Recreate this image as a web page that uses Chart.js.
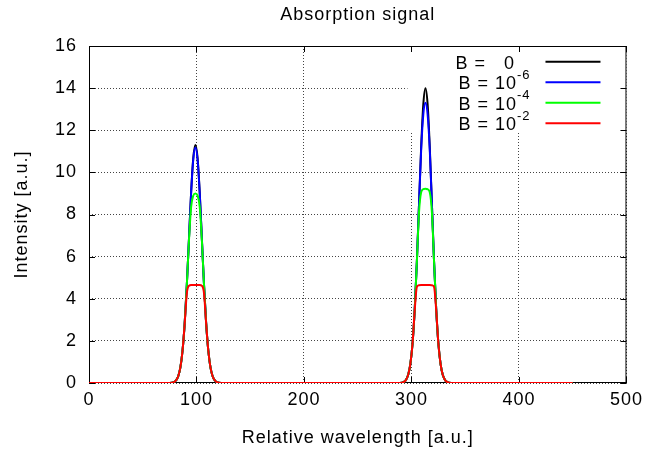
<!DOCTYPE html>
<html>
<head>
<meta charset="utf-8">
<script src="https://cdn.jsdelivr.net/npm/chart.js@4/dist/chart.umd.min.js"></script>
<style>
  body { margin: 0; background: #fff; }
  canvas { display: block; }
</style>
</head>
<body>
<canvas id="chart" width="649" height="451"></canvas>
<script>
// relative wavelength sample positions (two absorption lines, ~99 and ~313)
var wavelength = [0,
    75, 79, 81, 83, 85, 87, 89, 91, 93, 95, 97, 99, 101, 103, 105, 107, 109, 111, 113, 115, 117, 119, 123,
    200,
    289, 293, 295, 297, 299, 301, 303, 305, 307, 309, 311, 313, 315, 317, 319, 321, 323, 325, 327, 329, 331, 333, 337,
    450];

var signalB0 = [0,
    0, 0.04, 0.13, 0.32, 0.74, 1.53, 2.82, 4.65, 6.85, 9.05, 10.69, 11.3, 10.69, 9.05, 6.85, 4.65, 2.82, 1.53, 0.74, 0.32, 0.13, 0.04, 0,
    0,
    0, 0.05, 0.16, 0.40, 0.92, 1.89, 3.49, 5.76, 8.49, 11.21, 13.24, 14.0, 13.24, 11.21, 8.49, 5.76, 3.49, 1.89, 0.92, 0.40, 0.16, 0.05, 0,
    0];
var signalB6 = [0,
    0, 0.04, 0.13, 0.32, 0.74, 1.53, 2.82, 4.65, 6.85, 9.03, 10.61, 11.18, 10.61, 9.03, 6.85, 4.65, 2.82, 1.53, 0.74, 0.32, 0.13, 0.04, 0,
    0,
    0, 0.05, 0.16, 0.40, 0.92, 1.89, 3.49, 5.76, 8.48, 11.08, 12.75, 13.3, 12.75, 11.08, 8.48, 5.76, 3.49, 1.89, 0.92, 0.40, 0.16, 0.05, 0,
    0];
var signalB4 = [0,
    0, 0.04, 0.13, 0.32, 0.74, 1.53, 2.82, 4.65, 6.77, 8.36, 8.90, 9.00, 8.90, 8.36, 6.77, 4.65, 2.82, 1.53, 0.74, 0.32, 0.13, 0.04, 0,
    0,
    0, 0.05, 0.16, 0.40, 0.92, 1.89, 3.49, 5.75, 8.10, 9.05, 9.20, 9.22, 9.20, 9.05, 8.10, 5.75, 3.49, 1.89, 0.92, 0.40, 0.16, 0.05, 0,
    0];
var signalB2 = [0,
    0, 0.04, 0.13, 0.32, 0.74, 1.53, 2.81, 4.26, 4.62, 4.65, 4.65, 4.65, 4.65, 4.65, 4.62, 4.26, 2.81, 1.53, 0.74, 0.32, 0.13, 0.04, 0,
    0,
    0, 0.05, 0.16, 0.40, 0.92, 1.89, 3.45, 4.56, 4.64, 4.65, 4.65, 4.65, 4.65, 4.65, 4.64, 4.56, 3.45, 1.89, 0.92, 0.40, 0.16, 0.05, 0,
    0];

var keyLabels = ['B =   0', 'B = 10', 'B = 10', 'B = 10'];
var keyExponents = ['', '-6', '-4', '-2'];
var lineColors = ['#000000', '#0000ff', '#00ff00', '#ff0000'];

var FONT = '"Liberation Sans", Arial, Helvetica, sans-serif';
var SPACING = '1px';

function points(values) {
    return wavelength.map(function(x, i) { return { x: x, y: values[i] }; });
}

// gnuplot-like frame, inward ticks, opaque key box and key entries
var gnuplotFrame = {
    id: 'gnuplotFrame',
    beforeLayout: function(chart) { chart.ctx.letterSpacing = SPACING; },
    beforeDraw: function(chart) { chart.ctx.letterSpacing = SPACING; },
    beforeDatasetsDraw: function(chart) {
        var ctx = chart.ctx, a = chart.chartArea;
        var xs = chart.scales.x, ys = chart.scales.y;
        ctx.save();
        ctx.fillStyle = '#ffffff';
        ctx.fillRect(a.right - 219, a.top, 219, 87);
        ctx.strokeStyle = '#000000';
        ctx.lineWidth = 1;
        ctx.strokeRect(a.left + 0.5, a.top + 0.5, a.right - a.left - 1, a.bottom - a.top - 1);
        ctx.beginPath();
        xs.ticks.forEach(function(t) {
            var px = Math.round(xs.getPixelForValue(t.value)) + 0.5;
            ctx.moveTo(px, a.bottom); ctx.lineTo(px, a.bottom - 6);
            ctx.moveTo(px, a.top); ctx.lineTo(px, a.top + 6);
        });
        ys.ticks.forEach(function(t) {
            var py = Math.round(ys.getPixelForValue(t.value)) + 0.5;
            ctx.moveTo(a.left, py); ctx.lineTo(a.left + 6, py);
            ctx.moveTo(a.right, py); ctx.lineTo(a.right - 6, py);
        });
        ctx.stroke();
        ctx.restore();
    },
    afterDatasetsDraw: function(chart) {
        var ctx = chart.ctx, a = chart.chartArea;
        ctx.save();
        ctx.letterSpacing = SPACING;
        ctx.textAlign = 'left';
        ctx.textBaseline = 'alphabetic';
        ctx.fillStyle = '#000000';
        keyLabels.forEach(function(label, i) {
            var y = a.top + 15.7 + 20.5 * i;
            var x = i === 0 ? a.right - 171 : a.right - 168;
            ctx.font = '18px ' + FONT;
            ctx.fillText(label, x, y + 6.8);
            if (keyExponents[i]) {
                var w = ctx.measureText(label).width;
                ctx.font = '13px ' + FONT;
                ctx.fillText(keyExponents[i], x + w, y - 3.5);
            }
            ctx.beginPath();
            ctx.strokeStyle = lineColors[i];
            ctx.lineWidth = 2;
            ctx.moveTo(a.right - 81, y);
            ctx.lineTo(a.right - 26, y);
            ctx.stroke();
        });
        ctx.restore();
    }
};

var series = [signalB0, signalB6, signalB4, signalB2];
var names = ['B = 0', 'B = 1e-6', 'B = 1e-4', 'B = 1e-2'];

new Chart(document.getElementById('chart').getContext('2d'), {
    type: 'line',
    data: {
        datasets: series.map(function(values, i) {
            return {
                label: names[i],
                data: points(values),
                borderColor: lineColors[i],
                backgroundColor: lineColors[i],
                borderWidth: 2,
                pointRadius: 0,
                fill: false,
                cubicInterpolationMode: 'monotone',
                order: 4 - i   // red drawn last, on top
            };
        })
    },
    options: {
        responsive: false,
        animation: false,
        events: [],
        layout: { padding: { left: 7, right: 20, top: 0, bottom: 0 } },
        plugins: {
            legend: { display: false },
            tooltip: { enabled: false },
            title: {
                display: true,
                fullSize: false,   // centre over the plot area, like gnuplot
                text: 'Absorption signal',
                color: '#000',
                font: { family: FONT, size: 18, weight: 'normal' },
                padding: { top: 4, bottom: 20.4 }
            }
        },
        scales: {
            x: {
                type: 'linear',
                min: 0,
                max: 500,
                ticks: { stepSize: 100, color: '#000', padding: 6, font: { family: FONT, size: 18 } },
                grid: { color: '#444', lineWidth: 1, drawTicks: false },
                border: { display: false, dash: [1, 2] },
                title: { display: true, text: 'Relative wavelength [a.u.]', color: '#000', font: { family: FONT, size: 18, lineHeight: 1.0 } },
                afterFit: function(scale) { scale.height = 68; }
            },
            y: {
                min: 0,
                max: 16,
                ticks: { stepSize: 2, color: '#000', padding: 12, font: { family: FONT, size: 18 } },
                grid: { color: '#444', lineWidth: 1, drawTicks: false },
                border: { display: false, dash: [1, 2] },
                title: { display: true, text: 'Intensity [a.u.]', color: '#000', font: { family: FONT, size: 18 } },
                afterFit: function(scale) { scale.width = 82; }
            }
        }
    },
    plugins: [gnuplotFrame]
});
</script>
</body>
</html>
